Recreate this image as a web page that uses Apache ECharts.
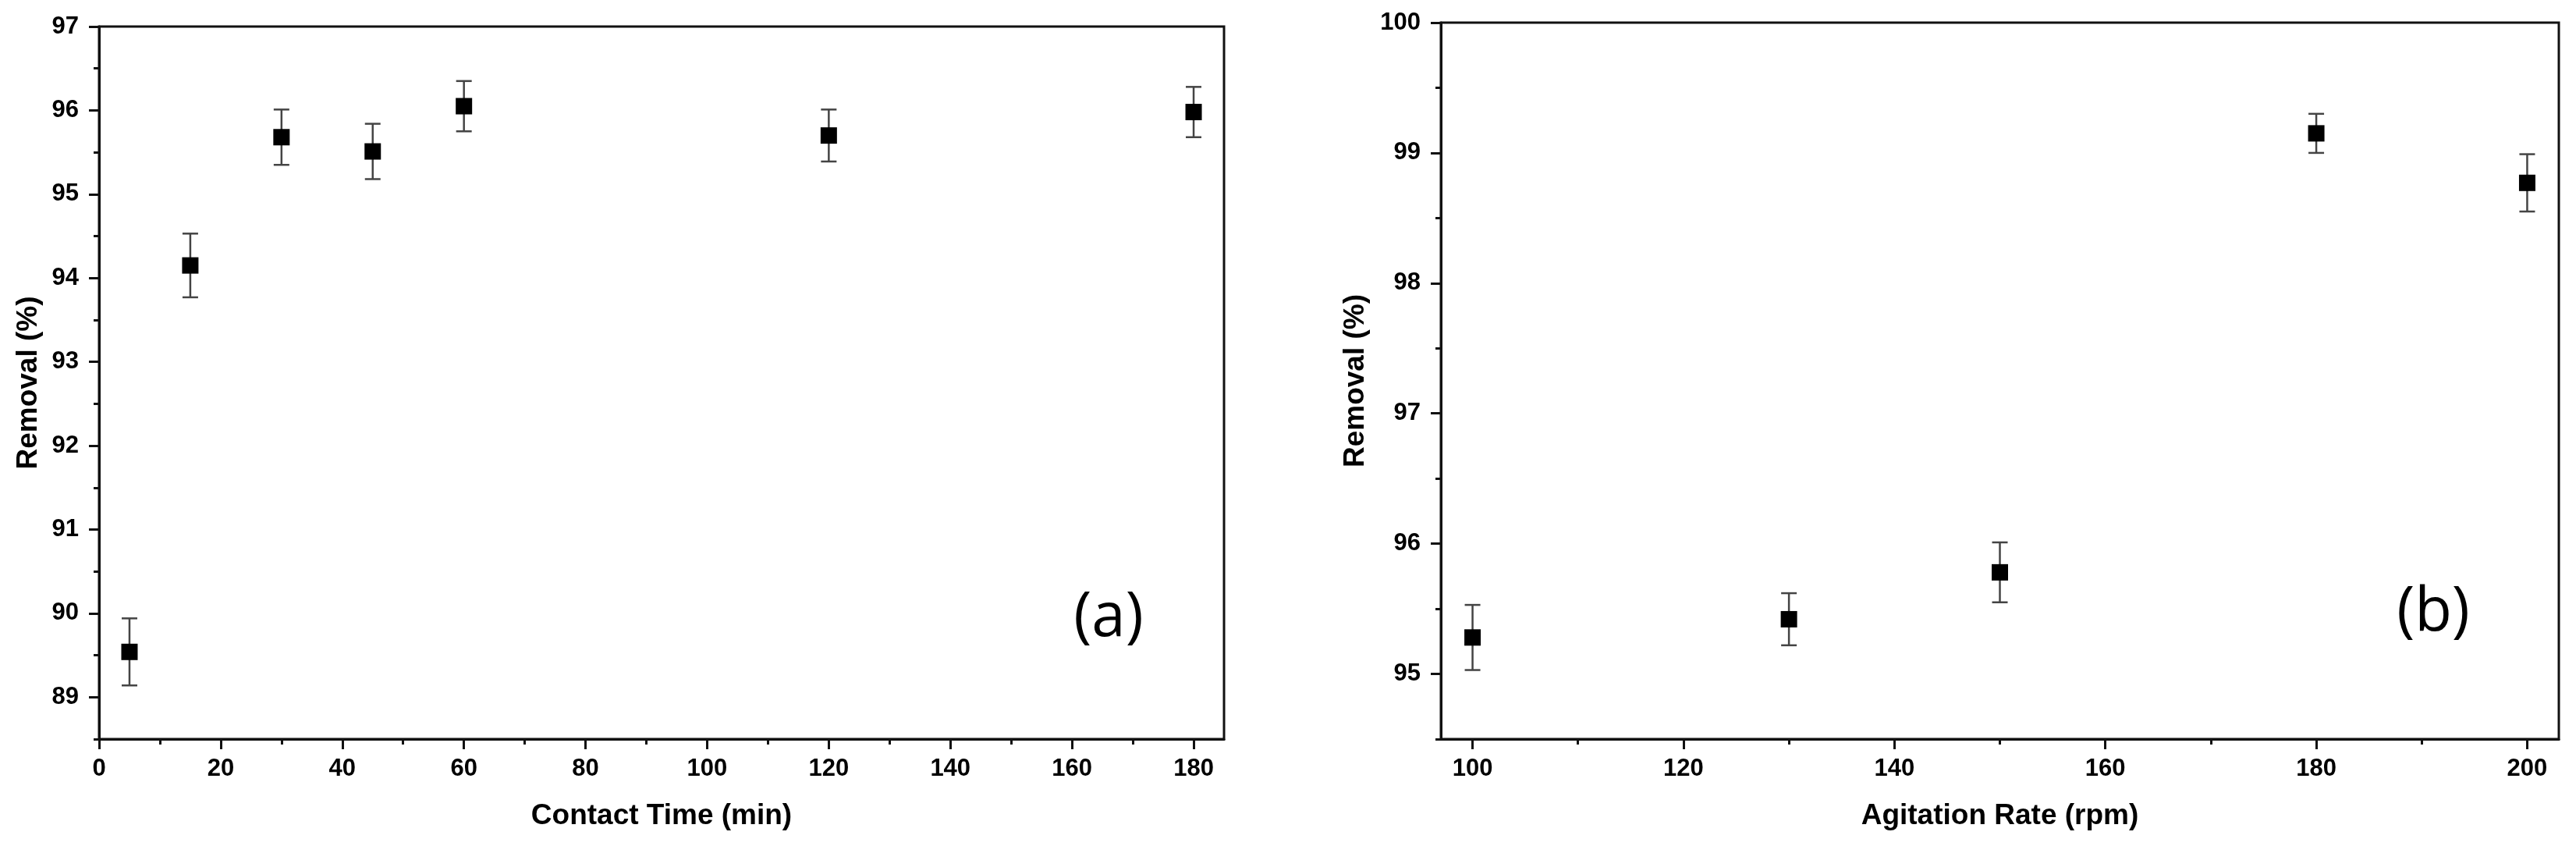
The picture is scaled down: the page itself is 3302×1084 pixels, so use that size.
<!DOCTYPE html>
<html>
<head>
<meta charset="utf-8">
<title>Removal (%) vs contact time and agitation rate</title>
<script src="https://cdn.jsdelivr.net/npm/echarts@6/dist/echarts.min.js"></script>
<style>
  html, body { margin: 0; padding: 0; background: #fff; }
  #chart { width: 3302px; height: 1084px; }
</style>
</head>
<body>
<div id="chart"></div>
<script>
// (a) effect of contact time
const contactTime = [5, 15, 30, 45, 60, 120, 180]
const removalTime = [89.54, 94.15, 95.68, 95.51, 96.05, 95.70, 95.98]
const errTime = [0.40, 0.38, 0.33, 0.33, 0.30, 0.31, 0.30]

// (b) effect of agitation rate
const agitationRate = [100, 130, 150, 180, 200]
const removalRate = [95.28, 95.42, 95.78, 99.15, 98.77]
const errRate = [0.25, 0.20, 0.23, 0.15, 0.22]

// tick labels / positions
const timeTicks = [0, 20, 40, 60, 80, 100, 120, 140, 160, 180]
const timeMinor = [10, 30, 50, 70, 90, 110, 130, 150, 170]
const rateTicks = [100, 120, 140, 160, 180, 200]
const rateMinor = [110, 130, 150, 170, 190]
const removalTicksA = [89, 90, 91, 92, 93, 94, 95, 96, 97]
const removalMinorA = [88.5, 89.5, 90.5, 91.5, 92.5, 93.5, 94.5, 95.5, 96.5]
const removalTicksB = [95, 96, 97, 98, 99, 100]
const removalMinorB = [94.5, 95.5, 96.5, 97.5, 98.5, 99.5]

const ink = '#111'
const labelFont = { fontFamily: 'Liberation Sans', fontWeight: 'bold', fontSize: 31, color: '#000' }
const nameFont = { fontFamily: 'Liberation Sans', fontWeight: 'bold', fontSize: 37, color: '#000' }

// major axis: line, ticks, labels
function majorAxis(gridIndex, min, max, ticks, pos, name, nameGap) {
  return {
    type: 'value',
    gridIndex: gridIndex,
    position: pos,
    min: min,
    max: max,
    name: name,
    nameLocation: 'middle',
    nameGap: nameGap,
    nameTextStyle: nameFont,
    axisLine: { show: true, lineStyle: { color: ink, width: 3 } },
    axisTick: { show: true, customValues: ticks, length: 13, lineStyle: { color: ink, width: 3 } },
    axisLabel: Object.assign({ customValues: ticks, margin: pos === 'left' ? 26 : 23 }, labelFont),
    splitLine: { show: false }
  }
}

// minor ticks only, drawn on a twin axis
function minorAxis(gridIndex, min, max, ticks, pos) {
  return {
    type: 'value',
    gridIndex: gridIndex,
    position: pos,
    min: min,
    max: max,
    axisLine: { show: false },
    axisTick: { show: true, customValues: ticks, length: 7, lineStyle: { color: ink, width: 3 } },
    axisLabel: { show: false },
    splitLine: { show: false }
  }
}

function errorBar(params, api) {
  const x = api.value(0)
  const lo = api.coord([x, api.value(1)])
  const hi = api.coord([x, api.value(2)])
  const half = 10
  const style = { stroke: '#444', lineWidth: 2.5 }
  return {
    type: 'group',
    children: [
      { type: 'line', shape: { x1: hi[0], y1: hi[1], x2: lo[0], y2: lo[1] }, style: style },
      { type: 'line', shape: { x1: hi[0] - half, y1: hi[1], x2: hi[0] + half, y2: hi[1] }, style: style },
      { type: 'line', shape: { x1: lo[0] - half, y1: lo[1], x2: lo[0] + half, y2: lo[1] }, style: style }
    ]
  }
}

const chart = echarts.init(document.getElementById('chart'))

const option = {
  backgroundColor: '#fff',
  animation: false,
  grid: [
    { left: 127, top: 34, width: 1442, height: 913, show: true, borderColor: ink, borderWidth: 3, backgroundColor: 'transparent' },
    { left: 1847, top: 29, width: 1433, height: 918, show: true, borderColor: ink, borderWidth: 3, backgroundColor: 'transparent' }
  ],
  xAxis: [
    majorAxis(0, 0, 185, timeTicks, 'bottom', 'Contact Time (min)', 80),
    minorAxis(0, 0, 185, timeMinor, 'bottom'),
    majorAxis(1, 97, 203, rateTicks, 'bottom', 'Agitation Rate (rpm)', 80),
    minorAxis(1, 97, 203, rateMinor, 'bottom')
  ],
  yAxis: [
    majorAxis(0, 88.5, 97, removalTicksA, 'left', 'Removal (%)', 72),
    minorAxis(0, 88.5, 97, removalMinorA, 'left'),
    majorAxis(1, 94.5, 100, removalTicksB, 'left', 'Removal (%)', 91),
    minorAxis(1, 94.5, 100, removalMinorB, 'left')
  ],
  graphic: [
    {
      type: 'text', x: 1421, y: 793,
      style: { text: '(a)', font: '78px "Open Sans"', fill: '#000', textAlign: 'center', textVerticalAlign: 'middle' }
    },
    {
      type: 'text', x: 3119, y: 786,
      style: { text: '(b)', font: '78px "Open Sans"', fill: '#000', textAlign: 'center', textVerticalAlign: 'middle' }
    }
  ],
  series: [
    {
      type: 'custom',
      xAxisIndex: 0,
      yAxisIndex: 0,
      renderItem: errorBar,
      encode: { x: 0, y: [1, 2] },
      data: contactTime.map((x, i) => [x, removalTime[i] - errTime[i], removalTime[i] + errTime[i]]),
      z: 2
    },
    {
      type: 'scatter',
      xAxisIndex: 0,
      yAxisIndex: 0,
      symbol: 'rect',
      symbolSize: 21,
      itemStyle: { color: '#000', opacity: 1 },
      data: contactTime.map((x, i) => [x, removalTime[i]]),
      z: 3
    },
    {
      type: 'custom',
      xAxisIndex: 2,
      yAxisIndex: 2,
      renderItem: errorBar,
      encode: { x: 0, y: [1, 2] },
      data: agitationRate.map((x, i) => [x, removalRate[i] - errRate[i], removalRate[i] + errRate[i]]),
      z: 2
    },
    {
      type: 'scatter',
      xAxisIndex: 2,
      yAxisIndex: 2,
      symbol: 'rect',
      symbolSize: 21,
      itemStyle: { color: '#000', opacity: 1 },
      data: agitationRate.map((x, i) => [x, removalRate[i]]),
      z: 3
    }
  ]
}

chart.setOption(option)
</script>
</body>
</html>
